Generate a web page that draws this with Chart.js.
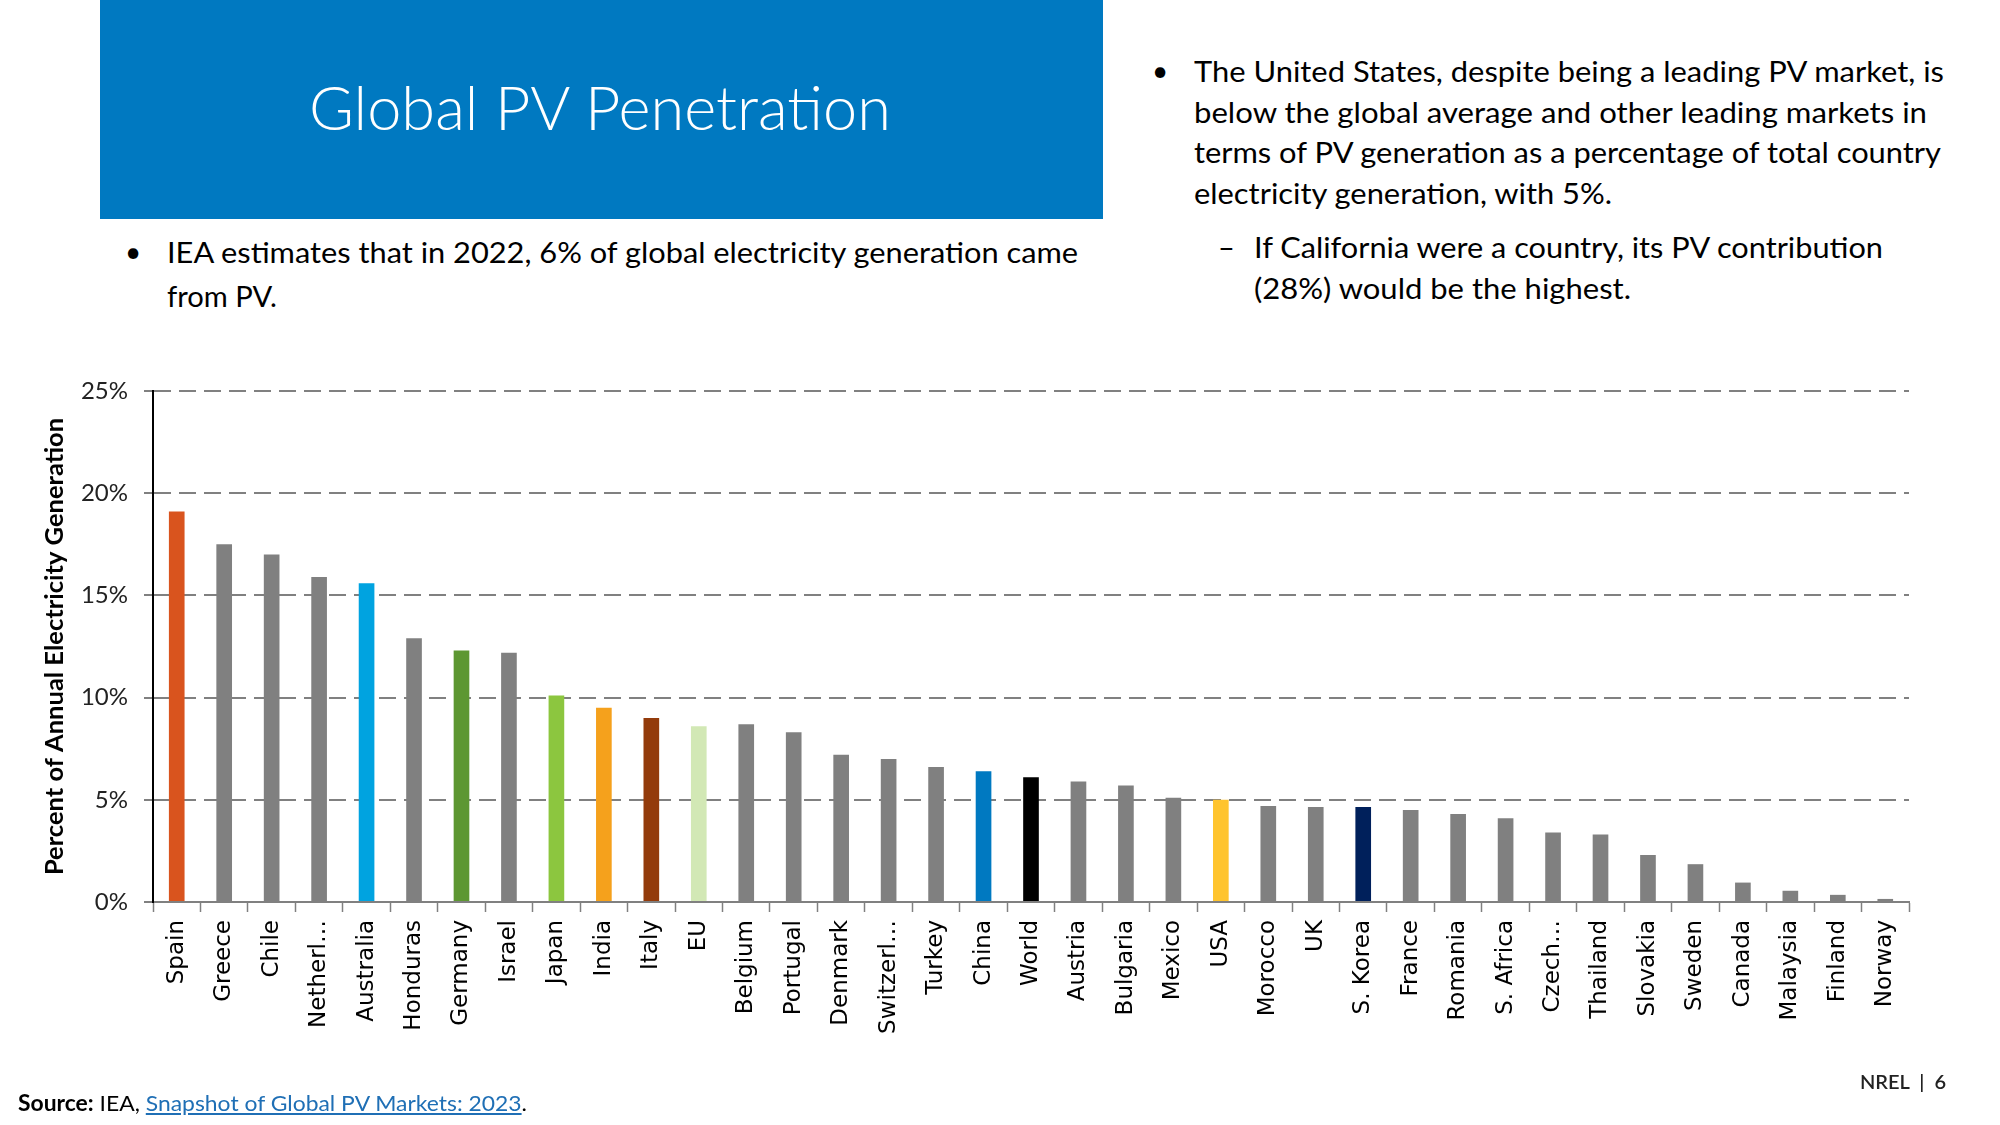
<!DOCTYPE html>
<html>
<head>
<meta charset="utf-8">
<script src="https://cdn.jsdelivr.net/npm/chart.js@4/dist/chart.umd.min.js"></script>
<style>
  html, body { margin:0; padding:0; background:#fff; }
  body { width:2000px; height:1125px; position:relative; overflow:hidden; font-family:Lato, "Open Sans", sans-serif; color:#000; }
  .t { position:absolute; white-space:nowrap; transform-origin:left center; }
  #titlebox { position:absolute; left:100px; top:0; width:1003px; height:219px; background:#0079C1; }
  #chartwrap { position:absolute; left:0; top:360px; width:2000px; height:730px; }
  a { color:#1F6FB5; }
</style>
</head>
<body>
<div id="titlebox"></div>
<div id="chartwrap"><canvas id="c" width="2000" height="730"></canvas></div>
<script>
// ---- data ----
const categories = ["Spain","Greece","Chile","Netherl…","Australia","Honduras","Germany","Israel","Japan","India","Italy","EU","Belgium","Portugal","Denmark","Switzerl…","Turkey","China","World","Austria","Bulgaria","Mexico","USA","Morocco","UK","S. Korea","France","Romania","S. Africa","Czech…","Thailand","Slovakia","Sweden","Canada","Malaysia","Finland","Norway"];
const pvShare = [19.1,17.5,17.0,15.9,15.6,12.9,12.3,12.2,10.1,9.5,9.0,8.6,8.7,8.3,7.2,7.0,6.6,6.4,6.1,5.9,5.7,5.1,5.0,4.7,4.65,4.65,4.5,4.3,4.1,3.4,3.3,2.3,1.85,0.95,0.55,0.35,0.15];
const yTicks = [0,5,10,15,20,25];

// ---- styles ----
const defaultColor = '#808080';
const highlight = {
  "Spain":'#D9541E', "Australia":'#00A3E0', "Germany":'#5D9732', "Japan":'#8CC63F',
  "India":'#F5A11C', "Italy":'#933B0B', "EU":'#D2E8B5', "China":'#0079C1',
  "World":'#000000', "USA":'#FFC42E', "S. Korea":'#00205B'
};
const barColors = categories.map(c => highlight[c] || defaultColor);

// ---- texts ----
function addText(html, x, cy, size, targetW, extra) {
  const d = document.createElement('div');
  d.className = 't';
  d.innerHTML = html;
  d.style.left = x + 'px';
  d.style.top = (cy - size * 0.6) + 'px';
  d.style.fontSize = size + 'px';
  d.style.lineHeight = (size * 1.2) + 'px';
  if (extra) Object.assign(d.style, extra);
  d.dataset.w = targetW || 0;
  document.body.appendChild(d);
  return d;
}
addText('Global PV Penetration', 309, 106, 62, 582, {color:'#fff', fontWeight:'300'});
addText('•', 125, 252, 28, 0);
addText('IEA estimates that in 2022, 6% of global electricity generation came', 167, 252, 29, 911);
addText('from PV.', 167, 296, 29, 110);
addText('•', 1152, 71, 28, 0);
addText('The United States, despite being a leading PV market, is', 1194, 71, 29, 750);
addText('below the global average and other leading markets in', 1194, 112, 29, 733);
addText('terms of PV generation as a percentage of total country', 1194, 152, 29, 747);
addText('electricity generation, with 5%.', 1194, 193, 29, 418);
addText('–', 1218, 247, 29, 0);
addText('If California were a country, its PV contribution', 1254, 247, 29, 629);
addText('(28%) would be the highest.', 1254, 288, 29, 377);
addText('<b>Source:</b> IEA, <a href="#">Snapshot of Global PV Markets: 2023</a>.', 18, 1103, 22, 509);
addText('NREL&nbsp; |&nbsp; 6', 1860, 1082, 19, 86, {fontWeight:'600', color:'#222'});

function fitAll() {
  document.querySelectorAll('.t').forEach(el => {
    const tw = +el.dataset.w;
    if (!tw) return;
    const w = el.getBoundingClientRect().width;
    if (w > 0) el.style.transform = 'scaleX(' + (tw / w) + ')';
  });
}
document.fonts.ready.then(fitAll);

// ---- chart ----
new Chart(document.getElementById('c'), {
  type: 'bar',
  data: {
    labels: categories,
    datasets: [{
      data: pvShare,
      backgroundColor: barColors,
      borderWidth: 0,
      barPercentage: 0.33,
      categoryPercentage: 1.0
    }]
  },
  options: {
    responsive: false,
    animation: false,
    layout: { padding: { top: 31, right: 91, bottom: 0, left: 0 } },
    plugins: { legend: { display: false }, tooltip: { enabled: false } },
    scales: {
      x: {
        afterFit: s => { s.height = 188; },
        grid: { display: true, drawOnChartArea: false, drawTicks: true, tickLength: 10, tickColor: '#808080', tickWidth: 1.5, offset: true },
        border: { display: true, color: '#808080', width: 2 },
        ticks: {
          autoSkip: false, maxRotation: 90, minRotation: 90, padding: 8,
          color: '#000', font: { family: 'DejaVu Sans', size: 23 }
        }
      },
      y: {
        min: 0, max: 25,
        afterFit: s => { s.width = 153; },
        afterBuildTicks: s => { s.ticks = yTicks.map(v => ({ value: v })); },
        grid: { color: '#808080', lineWidth: 2, drawTicks: true, tickLength: 9, tickColor: '#808080', tickWidth: 2, tickBorderDash: [] },
        border: { display: true, color: '#000', width: 2, dash: [17, 8] },
        ticks: {
          padding: 16, color: '#222',
          font: { family: 'Lato', size: 24 },
          callback: v => v + '%'
        },
        title: {
          display: true, text: 'Percent of Annual Electricity Generation',
          color: '#000', font: { family: 'Lato', size: 25.5, weight: 'bold' },
          padding: { top: 39, bottom: 0 }
        }
      }
    }
  }
});
</script>
</body>
</html>
